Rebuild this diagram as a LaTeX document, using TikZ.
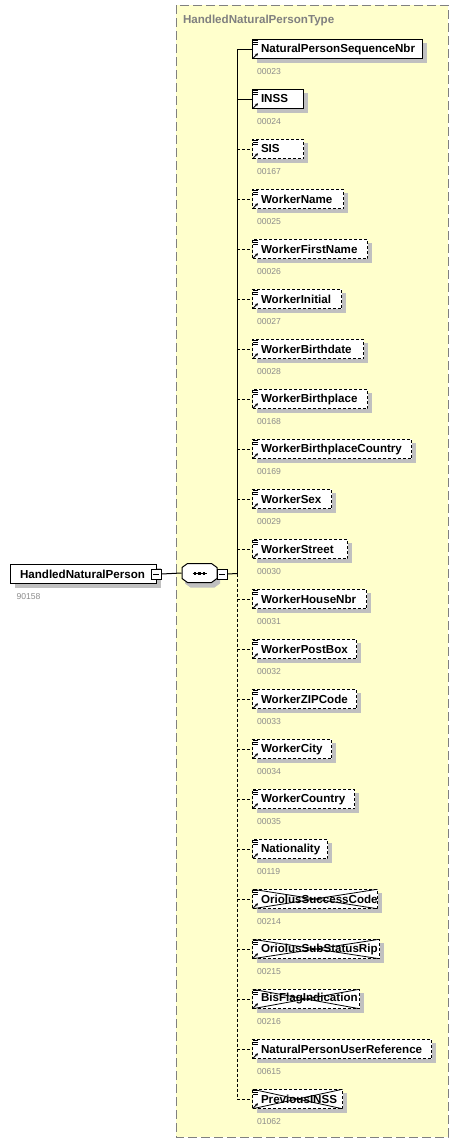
\documentclass[tikz,border=0pt]{standalone}
\usepackage{fontspec}
\setmainfont{Liberation Sans}
\usetikzlibrary{shadows,arrows.meta}
\definecolor{bgyellow}{HTML}{FFFFCC}
\definecolor{framegray}{HTML}{808080}
\definecolor{numgray}{HTML}{8C8C8C}
\definecolor{shadowgray}{HTML}{C0C0C0}
\begin{document}
\begin{tikzpicture}[x=1pt,y=-1pt,
  line width=1pt,
  shad/.style={drop shadow={shadow xshift=4pt, shadow yshift=-4pt, fill=shadowgray, opacity=1}},
  elem/.style={draw, fill=white, anchor=west, minimum height=19.5pt, inner sep=0pt,
    font=\fontsize{11.6}{13}\selectfont\bfseries, shad},
  opt/.style={dash pattern=on 3pt off 2pt},
  solidbox/.style={},
  optbox/.style={opt},
  crossbox/.style={opt, path picture={\draw[solid, line width=0.8pt]
      (path picture bounding box.north west) -- (path picture bounding box.south east)
      (path picture bounding box.south west) -- (path picture bounding box.north east);}},
  numlbl/.style={anchor=west, inner sep=0pt, text=numgray, font=\fontsize{8.6}{10}\selectfont},
  minusbox/.style={draw, fill=white, minimum width=10pt, minimum height=10pt, inner sep=0pt, line width=0.8pt},
  icon/.style={line width=0.8pt}
]
\useasboundingbox (0,0) rectangle (462,1144);
% container
\draw[framegray, fill=bgyellow, dash pattern=on 9pt off 4pt] (176,5) rectangle (448,1137);
\node[anchor=west, inner sep=0pt, text=framegray, font=\fontsize{11.6}{13}\selectfont\bfseries] (title) at (182.5,20) {HandledNaturalPersonType};

% root element
\node[elem, solidbox] (root) at (10,574) {\makebox[146pt][l]{\hspace{9.5pt}HandledNaturalPerson}};
\node[numlbl] (rootnum) at (16,597) {90158};
\node[minusbox] (m1) at (156,574) {};
\draw[line width=0.8pt] ([xshift=-3pt]m1.center) -- ([xshift=3pt]m1.center);

% sequence compositor
\node[minimum width=35pt, minimum height=19pt, inner sep=0pt] (seq) at (199.5,573) {};
\filldraw[fill=white, drop shadow={shadow xshift=3pt, shadow yshift=-5pt, fill=shadowgray, opacity=1}]
  (182,567.5) -- (187.5,563.5) -- (211.5,563.5) -- (217,567.5) -- (217,578.5) -- (211.5,582.5) -- (187.5,582.5) -- (182,578.5) -- cycle;
\draw[line width=0.8pt] (192.5,573.5) -- (206.5,573.5);
\foreach \dx in {195,199.5,204}{\fill (\dx-1.3,572.2) rectangle (\dx+1.3,574.8);}
\node[minusbox] (m2) at (222,574) {};
\draw[line width=0.8pt] ([xshift=-3pt]m2.center) -- ([xshift=3pt]m2.center);
\draw (m1.east) -- (seq.west);
\coordinate (tmid) at (237,573.5);
\draw (m2.east) -- (tmid);

% children
\foreach \i/\nm/\num/\w/\ty/\ct in {
  0/NaturalPersonSequenceNbr/00023/170/solidbox/solid,
  1/INSS/00024/51/solidbox/solid,
  2/SIS/00167/51/optbox/opt,
  3/WorkerName/00025/91/optbox/opt,
  4/WorkerFirstName/00026/115/optbox/opt,
  5/WorkerInitial/00027/89/optbox/opt,
  6/WorkerBirthdate/00028/111/optbox/opt,
  7/WorkerBirthplace/00168/115/optbox/opt,
  8/WorkerBirthplaceCountry/00169/159/optbox/opt,
  9/WorkerSex/00029/79/optbox/opt,
  10/WorkerStreet/00030/95/optbox/opt,
  11/WorkerHouseNbr/00031/114/optbox/opt,
  12/WorkerPostBox/00032/104/optbox/opt,
  13/WorkerZIPCode/00033/104/optbox/opt,
  14/WorkerCity/00034/79/optbox/opt,
  15/WorkerCountry/00035/102/optbox/opt,
  16/Nationality/00119/75/optbox/opt,
  17/OriolusSuccessCode/00214/125/crossbox/opt,
  18/OriolusSubStatusRip/00215/127/crossbox/opt,
  19/BisFlagIndication/00216/107/crossbox/opt,
  20/NaturalPersonUserReference/00615/179/optbox/opt,
  21/PreviousINSS/01062/90/crossbox/opt}{
  \node[elem, \ty] (e\i) at (252,{49+50*\i}) {\makebox[\w pt][l]{\hspace{8.5pt}\nm}};
  \node[numlbl] (n\i) at (256.5,{72+50*\i}) {\num};
  \coordinate (t\i) at (237,{49+50*\i});
  \draw[\ct] (t\i) -- (e\i.west);
  \foreach \dy in {1.5,3.5,5.5}{
    \draw[icon] ([xshift=1pt,yshift=-\dy pt]e\i.north west) -- ++(5,0);}
  \draw[icon, -{Stealth[length=3pt,width=3pt]}] ([xshift=1.5pt,yshift=1.5pt]e\i.south west) -- ++(4.5,-4.5);
}
% trunk
\draw (t0) -- (tmid);
\draw[opt] (tmid) -- (t21);
\end{tikzpicture}
\end{document}
